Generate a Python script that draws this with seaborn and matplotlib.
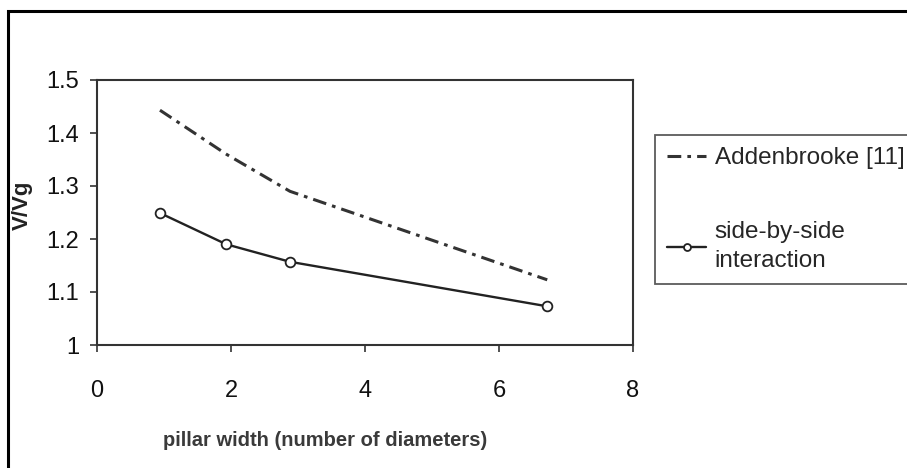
import matplotlib
matplotlib.use("Agg")
import matplotlib.pyplot as plt
import seaborn as sns
import pandas as pd
from matplotlib.patches import Rectangle
from matplotlib.ticker import FuncFormatter

# data
pillar_width = [0.94, 1.93, 2.88, 6.72]
addenbrooke = [1.443, 1.360, 1.290, 1.123]
side_by_side = [1.249, 1.190, 1.157, 1.073]
x_ticks = [0, 2, 4, 6, 8]
y_ticks = [1.0, 1.1, 1.2, 1.3, 1.4, 1.5]

sns.set_theme(style="white")
plt.rcParams['font.family'] = ['Liberation Sans', 'DejaVu Sans']

fig = plt.figure(figsize=(9.07, 4.68), dpi=100)
ax = fig.add_axes([97/907, 1-345/468, (633-97)/907, (345-80)/468])

df_a = pd.DataFrame({"x": pillar_width, "y": addenbrooke})
df_s = pd.DataFrame({"x": pillar_width, "y": side_by_side})

sns.lineplot(data=df_a, x="x", y="y", ax=ax, color="#333333", linewidth=2.2,
             linestyle=(0, (4.5, 2, 1.2, 2)), label="Addenbrooke [11]")
sns.lineplot(data=df_s, x="x", y="y", ax=ax, color="#222222", linewidth=1.7,
             marker="o", markersize=7, markerfacecolor="white",
             markeredgecolor="#222222", markeredgewidth=1.3,
             label="side-by-side\ninteraction")

ax.set_xlim(0, 8)
ax.set_ylim(1.0, 1.5)
ax.set_xticks(x_ticks)
ax.set_yticks(y_ticks)
ax.yaxis.set_major_formatter(FuncFormatter(lambda v, p: f"{v:g}"))
ax.tick_params(axis="both", which="major", labelsize=17, length=5, width=1.2,
               direction="out", color="#333333", labelcolor="#111111",
               bottom=True, left=True)
ax.tick_params(axis="x", pad=20)
ax.tick_params(axis="y", pad=8)
for s in ax.spines.values():
    s.set_color("#333333")
    s.set_linewidth(1.5)

ax.set_xlabel("pillar width (number of diameters)", fontsize=14.5,
              fontweight="bold", color="#3a3a3a")
ax.xaxis.set_label_coords((325-97)/536, -(440-345)/265, transform=ax.transAxes)
ax.xaxis.label.set_va("center")
ax.set_ylabel("V/Vg", fontsize=16, fontweight="bold", color="#222222")
ax.yaxis.set_label_coords(-(97-22)/536, (345-205)/265, transform=ax.transAxes)
ax.yaxis.label.set_va("center")

ax.legend_.remove()
handles, labels = ax.get_legend_handles_labels()
leg = fig.legend(handles, labels, loc="upper left",
                 bbox_to_anchor=(655/907, 1-135/468), frameon=True,
                 fontsize=17.5, handlelength=1.6, handletextpad=0.35,
                 labelspacing=2.15, borderpad=0.5, fancybox=False,
                 borderaxespad=0)
for t in leg.get_texts():
    t.set_linespacing(1.4)
leg.get_frame().set_edgecolor("#333333")
leg.get_frame().set_linewidth(1.3)
for h in leg.legend_handles:
    try:
        h.set_markersize(5)
    except Exception:
        pass

# outer frame (top and left visible)
fig.patches.append(Rectangle((8/907, -0.05), 1.2, 1 - 11/468 + 0.05,
                             transform=fig.transFigure, fill=False,
                             edgecolor="black", linewidth=2.2))

fig.savefig("out.png", dpi=100)
